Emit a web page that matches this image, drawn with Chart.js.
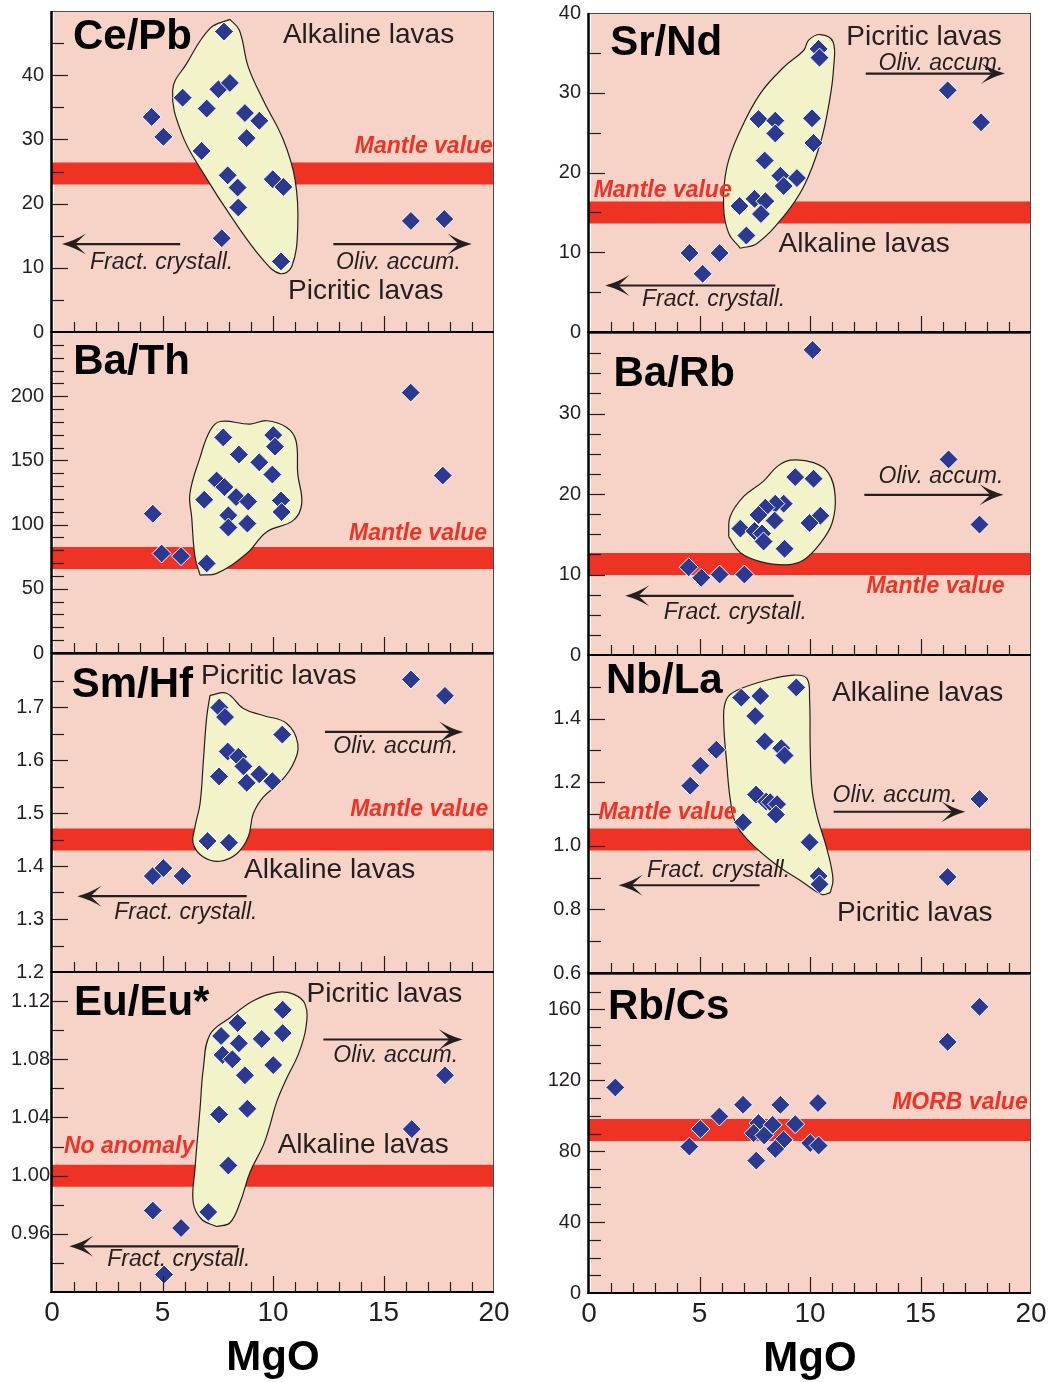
<!DOCTYPE html>
<html>
<head>
<meta charset="utf-8">
<script src="https://cdn.jsdelivr.net/npm/chart.js@4/dist/chart.umd.min.js"></script>
<style>
  html, body { margin: 0; padding: 0; background: #fff; }
  #fig { position: relative; width: 1060px; height: 1382px; overflow: hidden; background: #fff; }
  #fig canvas { position: absolute; }
</style>
</head>
<body>
<div id="fig"></div>
<script>
// ---------------------------------------------------------------
// Trace-element ratios versus MgO (wt%) for alkaline and picritic lavas
// ---------------------------------------------------------------
const mgoTicks = [0, 5, 10, 15, 20];

// Ce/Pb
const cePbMgO   = [7.78, 4.51, 5.04, 5.91, 7.0, 7.53, 8.05, 6.77, 8.73, 9.38, 8.81, 7.95, 8.4, 8.43, 7.68, 9.99, 10.47, 10.36, 16.24, 17.75];
const cePbRatio = [46.8, 33.5, 30.4, 36.5, 34.8, 37.8, 38.8, 28.2, 34.1, 32.9, 30.2, 24.4, 22.5, 19.4, 14.6, 23.8, 22.6, 11.0, 17.3, 17.6];
const cePbFieldMgO   = [8.05, 8.48, 8.88, 9.56, 10.47, 11.0, 11.12, 10.85, 10.32, 9.56, 8.2, 6.85, 5.87, 5.46, 6.09, 7.15, 8.05];
const cePbFieldRatio = [48.7, 47.0, 41.3, 36.1, 29.9, 23.7, 16.4, 10.2, 9.1, 11.2, 17.5, 24.7, 30.9, 37.7, 41.8, 47.3, 48.7];
const cePbMantle = 24.7;
const cePbTicks = [0, 10, 20, 30, 40];

// Sr/Nd
const srNdMgO   = [10.39, 10.43, 7.67, 8.43, 8.43, 10.09, 10.16, 7.95, 8.66, 9.41, 8.81, 6.81, 7.49, 7.98, 7.78, 7.12, 4.55, 5.91, 5.14, 16.23, 17.74];
const srNdRatio = [35.5, 34.4, 26.7, 26.5, 24.9, 26.8, 23.7, 21.5, 19.6, 19.3, 18.3, 15.8, 16.7, 16.4, 14.8, 12.1, 9.9, 9.9, 7.3, 30.3, 26.3];
const srNdFieldMgO   = [6.85, 6.32, 6.09, 6.24, 6.85, 7.75, 8.81, 9.71, 9.94, 10.47, 11.04, 11.07, 10.89, 10.47, 9.71, 8.81, 7.6, 6.85];
const srNdFieldRatio = [10.5, 12.4, 15.7, 20.7, 25.3, 29.9, 33.2, 35.3, 36.6, 37.3, 36.4, 33.2, 29.1, 23.7, 18.2, 14.5, 11.1, 10.5];
const srNdMantle = 15;
const srNdTicks = [0, 10, 20, 30, 40];

// Ba/Th
const baThMgO   = [16.23, 17.68, 7.75, 10.01, 10.09, 8.46, 9.38, 9.97, 7.45, 7.8, 6.89, 8.33, 8.88, 10.36, 10.39, 7.98, 7.98, 8.84, 4.56, 4.96, 5.84, 7.0];
const baThRatio = [202.8, 138.2, 167.9, 169.7, 160.7, 154.5, 148.5, 139, 134.3, 129.2, 119.4, 121.4, 118, 118.8, 109.8, 107.2, 97.7, 100.8, 108.5, 77.5, 75.4, 69.8];
const baThFieldMgO   = [6.7, 6.47, 6.32, 6.24, 6.7, 7.15, 7.6, 8.96, 9.71, 10.62, 11.04, 11.12, 11.3, 10.92, 9.71, 8.81, 7.45, 6.7];
const baThFieldRatio = [60.7, 74.9, 105.9, 124, 152.4, 173.1, 180.3, 178.3, 180.9, 175.7, 165.3, 139.5, 116.3, 103.3, 94.3, 77.5, 62, 60.7];
const baThMantle = 74;
const baThTicks = [0, 50, 100, 150, 200];

// Ba/Rb
const baRbMgO   = [10.12, 16.27, 17.67, 9.33, 10.16, 10.47, 9.98, 8.81, 8.43, 7.98, 7.67, 8.4, 6.85, 7.49, 7.83, 7.9, 8.85, 4.51, 5.08, 5.91, 7.03];
const baRbRatio = [37.9, 24.3, 16.2, 22.1, 21.9, 17.3, 16.4, 18.8, 18.8, 18.3, 17.4, 16.7, 15.7, 15.4, 15.1, 14.1, 13.2, 10.9, 9.6, 10.0, 10.0];
const baRbFieldMgO   = [6.32, 6.39, 7.0, 7.9, 8.51, 9.11, 10.16, 10.84, 11.14, 11.0, 10.47, 9.71, 8.96, 7.75, 6.85, 6.32];
const baRbFieldRatio = [14.7, 17.2, 19.7, 21.6, 23.4, 24.2, 23.9, 22.6, 19.7, 16.4, 13.9, 11.8, 11.2, 11.6, 12.7, 14.7];
const baRbMantle = 11.3;
const baRbTicks = [0, 10, 20, 30];

// Sm/Hf
const smHfMgO   = [16.24, 17.78, 7.57, 7.83, 10.42, 7.95, 8.43, 8.66, 7.56, 9.38, 8.81, 9.97, 7.04, 8.01, 4.56, 5.04, 5.91];
const smHfRatio = [1.752, 1.721, 1.699, 1.681, 1.648, 1.616, 1.606, 1.588, 1.569, 1.573, 1.557, 1.560, 1.447, 1.444, 1.381, 1.396, 1.381];
const smHfFieldMgO   = [7.15, 7.9, 8.66, 9.56, 10.62, 11.12, 10.92, 10.32, 9.56, 9.11, 8.88, 8.36, 7.6, 6.85, 6.39, 6.47, 6.7, 6.85, 7.0, 7.15];
const smHfFieldRatio = [1.722, 1.726, 1.697, 1.684, 1.669, 1.631, 1.593, 1.558, 1.530, 1.499, 1.455, 1.423, 1.409, 1.417, 1.442, 1.474, 1.518, 1.599, 1.681, 1.722];
const smHfMantle = 1.45;
const smHfTicks = [1.2, 1.3, 1.4, 1.5, 1.6, 1.7];

// Nb/La
const nbLaMgO   = [9.38, 6.89, 7.75, 7.52, 7.95, 8.7, 8.85, 5.76, 5.04, 4.58, 7.56, 8.02, 8.2, 8.51, 8.46, 6.97, 9.98, 10.39, 10.43, 17.67, 16.23];
const nbLaRatio = [1.498, 1.466, 1.471, 1.408, 1.328, 1.307, 1.284, 1.302, 1.252, 1.189, 1.161, 1.139, 1.137, 1.131, 1.098, 1.074, 1.011, 0.905, 0.879, 1.147, 0.902];
const nbLaFieldMgO   = [10.92, 10.54, 9.71, 8.35, 7.15, 6.62, 6.39, 6.24, 6.09, 6.24, 6.7, 8.05, 9.26, 9.86, 9.98, 10.01, 10.09, 10.32, 10.77, 11.04, 10.92];
const nbLaFieldRatio = [0.853, 0.847, 0.884, 0.947, 1.021, 1.074, 1.147, 1.252, 1.410, 1.463, 1.489, 1.521, 1.537, 1.526, 1.463, 1.305, 1.179, 1.094, 0.989, 0.895, 0.853];
const nbLaMantle = 1.02;
const nbLaTicks = [0.6, 0.8, 1.0, 1.2, 1.4];

// Eu/Eu*
const euMgO   = [10.44, 8.4, 7.65, 10.44, 9.49, 8.46, 7.72, 8.16, 10.01, 8.73, 17.78, 7.56, 8.84, 16.28, 7.98, 4.56, 7.07, 5.84, 5.07];
const euRatio = [1.114, 1.105, 1.096, 1.098, 1.094, 1.091, 1.083, 1.080, 1.076, 1.069, 1.069, 1.042, 1.046, 1.032, 1.007, 0.976, 0.975, 0.964, 0.932];
const euFieldMgO   = [7.45, 6.77, 6.39, 6.47, 6.7, 6.85, 7.15, 8.05, 9.11, 10.17, 10.92, 11.45, 11.49, 11.14, 10.62, 10.17, 9.86, 9.56, 8.96, 8.51, 8.05, 7.45];
const euFieldRatio = [0.965, 0.970, 0.9815, 1.0046, 1.0462, 1.074, 1.097, 1.1086, 1.1202, 1.126, 1.1248, 1.1179, 1.1017, 1.0832, 1.067, 1.0509, 1.0346, 1.0208, 1.0023, 0.9815, 0.9676, 0.965];
const euNoAnomaly = 1.0;
const euTicks = [0.96, 1.00, 1.04, 1.08, 1.12];

// Rb/Cs
const rbCsMgO   = [1.19, 16.23, 17.67, 4.54, 5.04, 5.9, 6.97, 8.66, 10.36, 7.67, 7.45, 8.31, 9.33, 7.93, 8.81, 8.43, 7.57, 10.01, 10.39];
const rbCsRatio = [116, 141.7, 161.5, 82.6, 92.5, 99.6, 106.2, 106.2, 107.2, 95.9, 90.2, 94.9, 95.3, 88.9, 86.4, 81.3, 74.7, 84.6, 83.2];
const rbCsMorb = 92;
const rbCsTicks = [0, 40, 80, 120, 160];

// ---------------------------------------------------------------
// Look
// ---------------------------------------------------------------
const FAMILY = "'Liberation Sans', Arial, Helvetica, sans-serif";
const PINK = '#f7d3c7';
const RED = '#ee3224';
const FIELD = '#f3f3c9';
const BLUE = '#2b3990';
const INK = '#231f20';

const TEXT = {
  name:  { font: `bold 42px ${FAMILY}`, color: '#000' },
  lava:  { font: `28px ${FAMILY}`, color: INK },
  trend: { font: `italic 23px ${FAMILY}`, color: INK },
  ref:   { font: `italic bold 23px ${FAMILY}`, color: RED }
};

// panel boxes (plot areas) in page pixels
const COL_X = [52, 589];
const PLOT_W = 442;
const ROW_BOX = [
  [{ y: 11, h: 321 }, { y: 332, h: 321 }, { y: 654, h: 318 }, { y: 972, h: 320 }],
  [{ y: 13, h: 319 }, { y: 333, h: 322 }, { y: 655, h: 318 }, { y: 974, h: 319 }]
];
const Y_AXIS_W = 50, PAD_T = 24, PAD_R = 20, X_AXIS_H = 24, X_AXIS_H_LAST = 92;

// annotation text [text, MgO, ratio, style, align] and trend arrows [from, to, ratio]
const panels = [
  { col: 0, row: 0, mgo: cePbMgO, ratio: cePbRatio, fx: cePbFieldMgO, fy: cePbFieldRatio, ref: cePbMantle,
    ticks: cePbTicks, yMin: 0, yMax: 50, minor: 5, dec: 0, pad: 8,
    notes: [['Ce/Pb', 0.95, 45.9, 'name', 'left'], ['Alkaline lavas', 10.45, 46.2, 'lava', 'left'],
            ['Mantle value', 19.95, 28.8, 'ref', 'right'], ['Fract. crystall.', 1.72, 10.8, 'trend', 'left'],
            ['Oliv. accum.', 12.85, 10.8, 'trend', 'left'], ['Picritic lavas', 10.68, 6.3, 'lava', 'left']],
    arrows: [[5.8, 0.45, 13.7], [12.73, 18.99, 13.7]] },
  { col: 0, row: 1, mgo: baThMgO, ratio: baThRatio, fx: baThFieldMgO, fy: baThFieldRatio, ref: baThMantle,
    ticks: baThTicks, yMin: 0, yMax: 250, minor: 10, dec: 0, pad: 8,
    notes: [['Ba/Th', 0.96, 226, 'name', 'left'], ['Mantle value', 19.69, 93, 'ref', 'right']],
    arrows: [] },
  { col: 0, row: 2, mgo: smHfMgO, ratio: smHfRatio, fx: smHfFieldMgO, fy: smHfFieldRatio, ref: smHfMantle,
    ticks: smHfTicks, yMin: 1.2, yMax: 1.8, minor: 0.05, dec: 1, pad: 8,
    notes: [['Sm/Hf', 0.89, 1.741, 'name', 'left'], ['Picritic lavas', 6.74, 1.758, 'lava', 'left'],
            ['Oliv. accum.', 12.73, 1.625, 'trend', 'left'], ['Mantle value', 19.74, 1.506, 'ref', 'right'],
            ['Alkaline lavas', 8.69, 1.391, 'lava', 'left'], ['Fract. crystall.', 2.82, 1.313, 'trend', 'left']],
    arrows: [[12.35, 18.61, 1.653], [8.81, 1.15, 1.343]] },
  { col: 0, row: 3, mgo: euMgO, ratio: euRatio, fx: euFieldMgO, fy: euFieldRatio, ref: euNoAnomaly,
    ticks: euTicks, yMin: 0.92, yMax: 1.14, minor: 0.02, dec: 2, pad: 2,
    notes: [['Eu/Eu*', 1.0, 1.1183, 'name', 'left'], ['Picritic lavas', 11.52, 1.1244, 'lava', 'left'],
            ['Oliv. accum.', 12.73, 1.0828, 'trend', 'left'], ['No anomaly', 0.54, 1.0197, 'ref', 'left'],
            ['Alkaline lavas', 10.21, 1.0208, 'lava', 'left'], ['Fract. crystall.', 2.5, 0.9422, 'trend', 'left']],
    arrows: [[12.28, 18.58, 1.0936], [8.43, 0.78, 0.9514]] },
  { col: 1, row: 0, mgo: srNdMgO, ratio: srNdRatio, fx: srNdFieldMgO, fy: srNdFieldRatio, ref: srNdMantle,
    ticks: srNdTicks, yMin: 0, yMax: 40, minor: 5, dec: 0, pad: 8,
    notes: [['Sr/Nd', 0.96, 36.2, 'name', 'left'], ['Picritic lavas', 11.64, 36.9, 'lava', 'left'],
            ['Oliv. accum.', 13.1, 33.7, 'trend', 'left'], ['Mantle value', 0.21, 17.7, 'ref', 'left'],
            ['Alkaline lavas', 8.58, 11.0, 'lava', 'left'], ['Fract. crystall.', 2.4, 4.1, 'trend', 'left']],
    arrows: [[12.52, 18.82, 32.4], [8.43, 0.74, 5.83]] },
  { col: 1, row: 1, mgo: baRbMgO, ratio: baRbRatio, fx: baRbFieldMgO, fy: baRbFieldRatio, ref: baRbMantle,
    ticks: baRbTicks, yMin: 0, yMax: 40, minor: 2.5, dec: 0, pad: 8,
    notes: [['Ba/Rb', 1.11, 34.9, 'name', 'left'], ['Oliv. accum.', 13.1, 22.2, 'trend', 'left'],
            ['Mantle value', 18.8, 8.5, 'ref', 'right'], ['Fract. crystall.', 3.38, 5.27, 'trend', 'left']],
    arrows: [[12.46, 18.76, 19.9], [9.26, 1.64, 7.35]] },
  { col: 1, row: 2, mgo: nbLaMgO, ratio: nbLaRatio, fx: nbLaFieldMgO, fy: nbLaFieldRatio, ref: nbLaMantle,
    ticks: nbLaTicks, yMin: 0.6, yMax: 1.6, minor: 0.1, dec: 1, pad: 8,
    notes: [['Nb/La', 0.77, 1.516, 'name', 'left'], ['Alkaline lavas', 11.0, 1.479, 'lava', 'left'],
            ['Oliv. accum.', 11.02, 1.158, 'trend', 'left'], ['Mantle value', 0.43, 1.103, 'ref', 'left'],
            ['Fract. crystall.', 2.62, 0.921, 'trend', 'left'], ['Picritic lavas', 11.22, 0.789, 'lava', 'left']],
    arrows: [[11.07, 17.03, 1.107], [7.72, 1.34, 0.876]] },
  { col: 1, row: 3, mgo: rbCsMgO, ratio: rbCsRatio, fx: null, fy: null, ref: rbCsMorb,
    ticks: rbCsTicks, yMin: 0, yMax: 180, minor: 10, dec: 0, pad: 8,
    notes: [['Rb/Cs', 0.86, 161, 'name', 'left'], ['MORB value', 19.85, 107.2, 'ref', 'right']],
    arrows: [] }
];

// ---------------------------------------------------------------
// Panel decoration: background, inward ticks, frame, arrows, labels
// ---------------------------------------------------------------
function drawArrow(ctx, x0, x1, y) {
  const dir = Math.sign(x1 - x0);
  const L = 24, W = 10.5;
  ctx.lineWidth = 2.2;
  ctx.beginPath();
  ctx.moveTo(x0, y);
  ctx.lineTo(x1 - dir * L * 0.5, y);
  ctx.stroke();
  ctx.beginPath();
  ctx.moveTo(x1, y);
  ctx.quadraticCurveTo(x1 - dir * L * 0.55, y - W * 0.35, x1 - dir * L, y - W);
  ctx.lineTo(x1 - dir * L * 0.55, y);
  ctx.lineTo(x1 - dir * L, y + W);
  ctx.quadraticCurveTo(x1 - dir * L * 0.55, y + W * 0.35, x1, y);
  ctx.closePath();
  ctx.fill();
}

function decor(p) {
  const seg = (ctx, a, b, c, d) => { ctx.beginPath(); ctx.moveTo(a, b); ctx.lineTo(c, d); ctx.stroke(); };
  return {
    id: 'decor',
    beforeDraw(chart) {
      const { ctx, chartArea: a } = chart;
      ctx.save();
      ctx.fillStyle = PINK;
      ctx.fillRect(a.left + 2, a.top, a.right - a.left - 2, a.bottom - a.top);
      ctx.restore();
    },
    afterDatasetsDraw(chart) {
      const { ctx, chartArea: a, scales: { x, y } } = chart;
      ctx.save();
      ctx.strokeStyle = INK;
      ctx.lineWidth = 1.2;
      const n = Math.round((p.yMax - p.yMin) / p.minor);
      for (let i = 1; i < n; i++) {
        const v = p.yMin + i * p.minor;
        const py = Math.round(y.getPixelForValue(v)) + 0.5;
        const major = p.ticks.some(t => Math.abs(t - v) < 1e-6);
        seg(ctx, a.left, py, a.left + (major ? 16 : 12), py);
      }
      for (let i = 1; i < 20; i++) {
        const px = Math.round(x.getPixelForValue(i)) + 0.5;
        seg(ctx, px, a.bottom, px, a.bottom - (i % 5 === 0 ? 16 : 10));
      }
      ctx.strokeStyle = '#4a4a4a';
      ctx.lineWidth = 1;
      seg(ctx, a.left, a.top + 0.5, a.right, a.top + 0.5);
      seg(ctx, a.right - 0.5, a.top, a.right - 0.5, a.bottom);
      ctx.strokeStyle = '#000';
      ctx.lineWidth = 2.5;
      seg(ctx, a.left - 0.5, a.top, a.left - 0.5, a.bottom + 1);
      ctx.lineWidth = 2;
      seg(ctx, a.left - 1.5, a.bottom, a.right, a.bottom);

      ctx.fillStyle = INK;
      ctx.strokeStyle = INK;
      for (const [from, to, v] of p.arrows) {
        drawArrow(ctx, x.getPixelForValue(from), x.getPixelForValue(to), y.getPixelForValue(v));
      }
      ctx.textBaseline = 'middle';
      for (const [txt, mx, v, kind, align] of p.notes) {
        ctx.font = TEXT[kind].font;
        ctx.fillStyle = TEXT[kind].color;
        ctx.textAlign = align;
        ctx.fillText(txt, x.getPixelForValue(mx), y.getPixelForValue(v));
      }
      ctx.restore();
    }
  };
}

// ---------------------------------------------------------------
// Build the eight panels
// ---------------------------------------------------------------
const fig = document.getElementById('fig');

panels.forEach(p => {
  const box = ROW_BOX[p.col][p.row];
  const last = p.row === 3;
  const xh = last ? X_AXIS_H_LAST : X_AXIS_H;
  const W = Y_AXIS_W + PLOT_W + PAD_R;
  const H = PAD_T + box.h + xh;
  const cv = document.createElement('canvas');
  cv.width = W; cv.height = H;
  cv.style.width = W + 'px'; cv.style.height = H + 'px';
  cv.style.left = (COL_X[p.col] - Y_AXIS_W) + 'px';
  cv.style.top = (box.y - PAD_T) + 'px';
  cv.style.zIndex = String(10 - p.row);
  fig.appendChild(cv);

  const datasets = [{
    label: 'samples',
    data: p.mgo.map((m, i) => ({ x: m, y: p.ratio[i] })),
    pointStyle: 'rectRot',
    pointRadius: 9.5,
    pointHoverRadius: 9.5,
    pointBackgroundColor: BLUE,
    pointBorderColor: '#ffffff',
    pointBorderWidth: 1,
    showLine: false,
    order: 0
  }];
  if (p.fx) {
    datasets.push({
      label: 'field',
      data: p.fx.map((m, i) => ({ x: m, y: p.fy[i] })),
      showLine: true,
      fill: 'shape',
      backgroundColor: FIELD,
      borderColor: INK,
      borderWidth: 1.2,
      tension: 0.4,
      pointRadius: 0,
      pointHoverRadius: 0,
      order: 1
    });
  }
  datasets.push({
    label: 'reference',
    data: [{ x: 0, y: p.ref }, { x: 20, y: p.ref }],
    showLine: true,
    fill: false,
    borderColor: RED,
    borderWidth: 22,
    borderCapStyle: 'butt',
    pointRadius: 0,
    pointHoverRadius: 0,
    order: 2
  });

  new Chart(cv, {
    type: 'scatter',
    data: { datasets },
    options: {
      responsive: false,
      animation: false,
      devicePixelRatio: 1,
      events: [],
      layout: { padding: { top: PAD_T, right: PAD_R, bottom: 0, left: 0 } },
      plugins: { legend: { display: false }, tooltip: { enabled: false } },
      scales: {
        x: {
          type: 'linear', min: 0, max: 20,
          grid: { display: false, drawTicks: false }, border: { display: false },
          ticks: { display: last, autoSkip: false, maxRotation: 0, padding: 4, color: INK,
                   font: { family: FAMILY, size: 28 } },
          afterBuildTicks: s => { s.ticks = mgoTicks.map(v => ({ value: v })); },
          title: { display: last, text: 'MgO', color: '#000', padding: 0,
                   font: { family: FAMILY, size: 42, weight: 'bold' } },
          afterFit: s => { s.height = xh; }
        },
        y: {
          type: 'linear', min: p.yMin, max: p.yMax,
          grid: { display: false, drawTicks: false }, border: { display: false },
          ticks: { autoSkip: false, padding: p.pad, color: INK,
                   font: { family: FAMILY, size: 20 },
                   callback: v => Number(v).toFixed(p.dec) },
          afterBuildTicks: s => { s.ticks = p.ticks.map(v => ({ value: v })); },
          afterFit: s => { s.width = Y_AXIS_W; }
        }
      }
    },
    plugins: [decor(p)]
  });
});
</script>
</body>
</html>
